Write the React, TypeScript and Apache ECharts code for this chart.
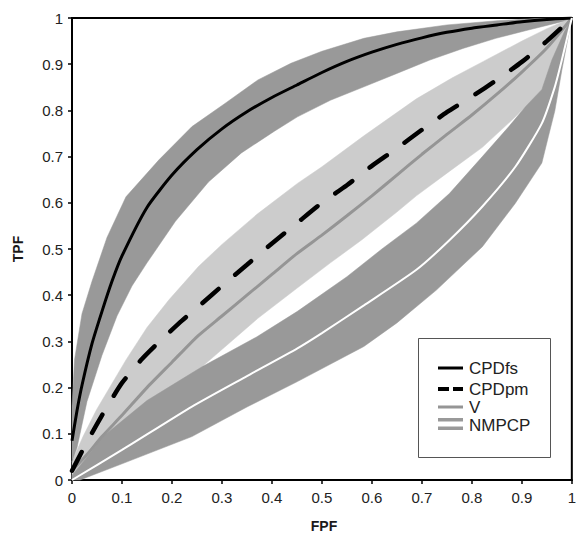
import { useEffect, useRef } from 'react';
import * as echarts from 'echarts';

type P = [number, number];

const xTickLabels = ['0', '0.1', '0.2', '0.3', '0.4', '0.5', '0.6', '0.7', '0.8', '0.9', '1'];
const yTickLabels = ['0', '0.1', '0.2', '0.3', '0.4', '0.5', '0.6', '0.7', '0.8', '0.9', '1'];

const legendNames = ['CPDfs', 'CPDpm', 'V', 'NMPCP'];

// CPDfs curve and its band
const cpdfsLine: P[] = [
  [0, 0.085], [0.01, 0.15], [0.02, 0.205], [0.04, 0.295], [0.06, 0.365], [0.08, 0.43], [0.1, 0.485],
  [0.15, 0.59], [0.2, 0.66], [0.25, 0.715], [0.3, 0.76], [0.35, 0.797], [0.4, 0.828], [0.45, 0.855],
  [0.5, 0.882], [0.55, 0.906], [0.6, 0.926], [0.65, 0.943], [0.7, 0.957], [0.75, 0.969], [0.8, 0.978],
  [0.85, 0.985], [0.9, 0.992], [0.95, 0.997], [1, 1],
];
const cpdfsUpper: P[] = [
  [0, 0.16], [0.005, 0.26], [0.02, 0.36], [0.04, 0.43], [0.07, 0.525], [0.108, 0.613], [0.174, 0.693],
  [0.24, 0.765], [0.306, 0.815], [0.372, 0.866], [0.438, 0.902], [0.5, 0.928], [0.584, 0.956],
  [0.65, 0.97], [0.75, 0.985], [0.85, 0.994], [0.93, 0.999], [1, 1],
];
const cpdfsLower: P[] = [
  [0, 0.04], [0.01, 0.07], [0.03, 0.17], [0.06, 0.27], [0.09, 0.355], [0.12, 0.42], [0.15, 0.47],
  [0.207, 0.56], [0.273, 0.645], [0.339, 0.708], [0.405, 0.755], [0.451, 0.786], [0.517, 0.822],
  [0.584, 0.851], [0.65, 0.88], [0.716, 0.909], [0.782, 0.934], [0.848, 0.956], [0.913, 0.974],
  [0.98, 0.992], [1, 1],
];

// CPDpm curve and its band
const cpdpmLine: P[] = [
  [0, 0.02], [0.02, 0.062], [0.04, 0.102], [0.06, 0.14], [0.08, 0.176], [0.1, 0.21], [0.14, 0.262],
  [0.18, 0.305], [0.22, 0.345], [0.26, 0.382], [0.3, 0.42], [0.35, 0.466], [0.4, 0.512], [0.45, 0.556],
  [0.5, 0.6], [0.55, 0.638], [0.6, 0.68], [0.65, 0.718], [0.7, 0.758], [0.75, 0.796], [0.8, 0.83],
  [0.85, 0.866], [0.9, 0.905], [0.95, 0.95], [1, 1],
];
const cpdpmUpper: P[] = [
  [0, 0.04], [0.022, 0.094], [0.049, 0.152], [0.108, 0.26], [0.15, 0.33], [0.194, 0.39], [0.253, 0.462],
  [0.3, 0.51], [0.37, 0.575], [0.451, 0.642], [0.5, 0.678], [0.584, 0.745], [0.689, 0.825], [0.76, 0.87],
  [0.821, 0.905], [0.9, 0.95], [0.95, 0.977], [1, 1],
];
const cpdpmLower: P[] = [
  [0, 0], [0.06, 0.075], [0.15, 0.165], [0.26, 0.245], [0.372, 0.35], [0.45, 0.415], [0.517, 0.47],
  [0.58, 0.52], [0.65, 0.58], [0.689, 0.615], [0.755, 0.668], [0.821, 0.72], [0.887, 0.786],
  [0.94, 0.844], [0.966, 0.905], [1, 1],
];

// V curve
const vLine: P[] = [
  [0, 0.02], [0.03, 0.055], [0.06, 0.094], [0.1, 0.14], [0.15, 0.2], [0.2, 0.255], [0.25, 0.31],
  [0.3, 0.355], [0.35, 0.4], [0.4, 0.445], [0.45, 0.49], [0.5, 0.53], [0.55, 0.572], [0.6, 0.615],
  [0.65, 0.66], [0.7, 0.705], [0.75, 0.748], [0.8, 0.79], [0.85, 0.835], [0.9, 0.883], [0.95, 0.935], [1, 1],
];

// NMPCP curve and its band
const nmpcpLine: P[] = [
  [0, 0], [0.1, 0.065], [0.24, 0.159], [0.35, 0.225], [0.451, 0.285], [0.5, 0.318], [0.584, 0.378],
  [0.689, 0.455], [0.755, 0.519], [0.821, 0.592], [0.887, 0.678], [0.94, 0.772], [0.966, 0.851],
  [0.98, 0.909], [1, 1],
];
const nmpcpUpper: P[] = [
  [0, 0.01], [0.03, 0.05], [0.062, 0.094], [0.15, 0.172], [0.26, 0.245], [0.37, 0.31], [0.451, 0.365],
  [0.55, 0.44], [0.62, 0.5], [0.689, 0.556], [0.755, 0.62], [0.821, 0.7], [0.874, 0.765], [0.907, 0.808],
  [0.94, 0.845], [0.96, 0.909], [0.985, 0.97], [1, 1],
];
const nmpcpLower: P[] = [
  [0, 0], [0.016, 0], [0.1, 0.035], [0.24, 0.094], [0.35, 0.158], [0.451, 0.213], [0.584, 0.289],
  [0.65, 0.34], [0.729, 0.411], [0.821, 0.505], [0.887, 0.599], [0.94, 0.686], [0.953, 0.743],
  [0.966, 0.799], [0.98, 0.887], [1, 1],
];

const DARK = '#999999';
const LIGHT = '#cccccc';
const FONT = "'Liberation Sans', Arial, sans-serif";

function band(name: string, upper: P[], lower: P[], color: string, z: number) {
  return {
    name,
    type: 'custom',
    coordinateSystem: 'cartesian2d',
    data: [[0, 0]],
    encode: { x: 0, y: 1 },
    silent: true,
    z,
    renderItem: (_params: any, api: any) => {
      const pts = upper.concat(lower.slice().reverse()).map((p) => api.coord(p));
      return {
        type: 'polygon',
        shape: { points: pts },
        style: { fill: color, stroke: color, lineWidth: 0.5 },
      };
    },
  };
}

function line(name: string, data: P[], lineStyle: any, z: number) {
  return {
    name,
    type: 'line',
    data,
    symbol: 'none',
    showSymbol: false,
    smooth: 0.2,
    silent: true,
    z,
    lineStyle,
  };
}

export default function App() {
  const ref = useRef<HTMLDivElement>(null);

  useEffect(() => {
    if (!ref.current) return;
    const chart = echarts.init(ref.current, undefined, { renderer: 'svg' });

    const lx1 = 438;
    const lx2 = 463;
    const tx = 469;
    const rowY = [368, 389, 407, 425];

    const axisCommon = {
      type: 'value' as const,
      min: 0,
      max: 1,
      interval: 0.1,
      splitLine: { show: false },
      axisLine: { show: true, lineStyle: { color: '#000', width: 2 } },
      axisTick: { show: true, inside: false, length: 4, lineStyle: { color: '#000', width: 1.5 } },
    };

    chart.setOption({
      animation: false,
      backgroundColor: '#fff',
      grid: {
        left: 72,
        right: 3,
        top: 18,
        bottom: 53,
        show: true,
        borderColor: '#000',
        borderWidth: 2,
        backgroundColor: 'transparent',
      },
      xAxis: {
        ...axisCommon,
        axisLabel: {
          margin: 10,
          fontSize: 15,
          fontFamily: FONT,
          color: '#222',
          formatter: (v: number) => xTickLabels[Math.round(v * 10)],
        },
      },
      yAxis: {
        ...axisCommon,
        axisLabel: {
          margin: 9,
          fontSize: 15,
          fontFamily: FONT,
          color: '#222',
          formatter: (v: number) => yTickLabels[Math.round(v * 10)],
        },
      },
      series: [
        band('CPDpm band', cpdpmUpper, cpdpmLower, LIGHT, 1),
        band('NMPCP band', nmpcpUpper, nmpcpLower, DARK, 2),
        band('CPDfs band', cpdfsUpper, cpdfsLower, DARK, 3),
        line(legendNames[2], vLine, { color: '#959595', width: 3 }, 4),
        line(legendNames[1], cpdpmLine, { color: '#000', width: 4.5, type: [21, 22], cap: 'round' }, 5),
        line(legendNames[0], cpdfsLine, { color: '#000', width: 3 }, 6),
        line(legendNames[3], nmpcpLine, { color: '#fff', width: 2 }, 7),
      ],
      graphic: [
        {
          type: 'text',
          x: 18,
          y: 249,
          rotation: Math.PI / 2,
          style: {
            text: 'TPF',
            fontSize: 14,
            fontWeight: 'bold',
            fontFamily: FONT,
            fill: '#1a1a1a',
            align: 'center',
            verticalAlign: 'middle',
          },
        },
        {
          type: 'text',
          x: 324,
          y: 526,
          style: {
            text: 'FPF',
            fontSize: 14,
            fontWeight: 'bold',
            fontFamily: FONT,
            fill: '#1a1a1a',
            align: 'center',
            verticalAlign: 'middle',
          },
        },
        {
          type: 'group',
          z: 100,
          children: [
            {
              type: 'rect',
              shape: { x: 418.5, y: 338.5, width: 132, height: 119 },
              style: { fill: '#fff', stroke: '#555', lineWidth: 1 },
            },
            {
              type: 'line',
              shape: { x1: lx1, y1: rowY[0], x2: lx2, y2: rowY[0] },
              style: { stroke: '#000', lineWidth: 3 },
            },
            {
              type: 'line',
              shape: { x1: lx1, y1: rowY[1], x2: 449, y2: rowY[1] },
              style: { stroke: '#000', lineWidth: 4 },
            },
            {
              type: 'line',
              shape: { x1: 453, y1: rowY[1], x2: lx2, y2: rowY[1] },
              style: { stroke: '#000', lineWidth: 4 },
            },
            {
              type: 'line',
              shape: { x1: lx1, y1: rowY[2], x2: lx2, y2: rowY[2] },
              style: { stroke: '#959595', lineWidth: 3 },
            },
            {
              type: 'rect',
              shape: { x: lx1, y: 418, width: lx2 - lx1, height: 12 },
              style: { fill: DARK },
            },
            {
              type: 'line',
              shape: { x1: lx1, y1: 424, x2: lx2, y2: 424 },
              style: { stroke: '#fff', lineWidth: 5 },
            },
            ...legendNames.map((n, i) => ({
              type: 'text',
              x: tx,
              y: rowY[i],
              style: {
                text: n,
                fontSize: 17,
                fontFamily: FONT,
                fill: '#222',
                align: 'left',
                verticalAlign: 'middle',
              },
            })),
          ],
        },
      ],
    });

    return () => {
      chart.dispose();
    };
  }, []);

  return (
    <div
      ref={ref}
      style={{ position: 'absolute', left: 0, top: 0, width: 579, height: 533 }}
    />
  );
}
